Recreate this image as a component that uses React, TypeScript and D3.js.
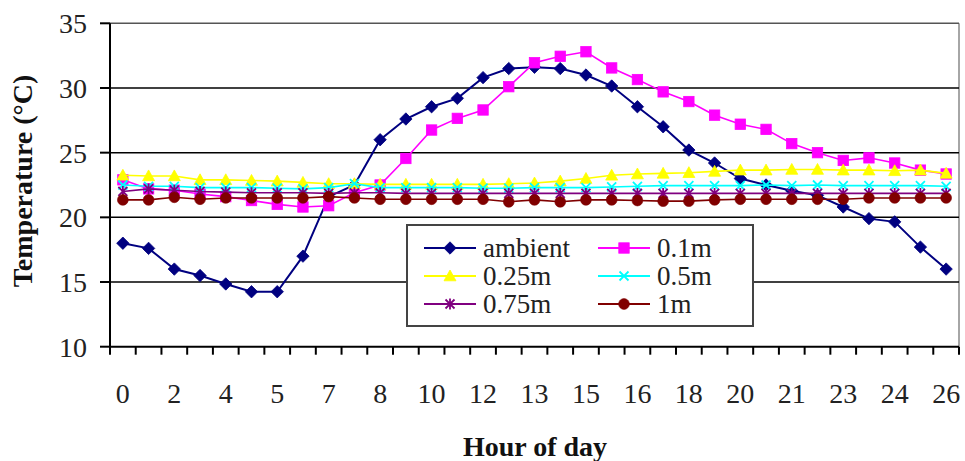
import React from "react";
import * as d3 from "d3";

// Category tick labels (every second category is labelled)
const hourLabels = ["0","","2","","4","","5","","7","","8","","10","","12","","13","","15","","16","","18","","20","","21","","23","","24","","26"];

const ambient = [18.0,17.6,16.0,15.5,14.85,14.25,14.25,17.0,21.6,22.5,26.0,27.6,28.55,29.2,30.8,31.5,31.6,31.5,31.0,30.15,28.55,27.0,25.2,24.2,23.0,22.5,22.05,21.7,20.8,19.9,19.65,17.7,16.0];
const m01 = [22.9,22.2,22.1,21.8,21.6,21.3,21.0,20.8,20.9,21.9,22.5,24.55,26.75,27.65,28.3,30.1,31.95,32.45,32.8,31.55,30.65,29.7,28.95,27.9,27.2,26.8,25.7,25.0,24.4,24.6,24.2,23.65,23.35];
const m025 = [23.25,23.2,23.2,22.9,22.9,22.85,22.8,22.7,22.6,22.6,22.55,22.55,22.55,22.55,22.55,22.6,22.65,22.8,23.0,23.25,23.35,23.4,23.45,23.55,23.65,23.65,23.7,23.7,23.65,23.65,23.6,23.65,23.4];
const m05 = [22.5,22.4,22.4,22.3,22.3,22.3,22.25,22.2,22.3,22.6,22.3,22.3,22.3,22.3,22.25,22.25,22.3,22.3,22.3,22.35,22.4,22.45,22.45,22.45,22.45,22.5,22.45,22.5,22.45,22.45,22.45,22.45,22.4];
const m075 = [22.0,22.2,22.1,22.0,21.95,21.9,21.9,21.9,21.85,21.9,21.9,21.85,21.85,21.85,21.85,21.85,21.85,21.85,21.85,21.85,21.85,21.85,21.85,21.85,21.85,21.85,21.85,21.85,21.85,21.85,21.85,21.85,21.85];
const m1 = [21.35,21.35,21.55,21.4,21.5,21.5,21.5,21.5,21.6,21.5,21.4,21.4,21.4,21.4,21.4,21.2,21.35,21.2,21.35,21.35,21.3,21.25,21.25,21.35,21.4,21.4,21.4,21.4,21.4,21.5,21.5,21.5,21.5];

const yTicks = [10, 15, 20, 25, 30, 35];

const seriesNames = ["ambient", "0.1m", "0.25m", "0.5m", "0.75m", "1m"];
const seriesValues = [ambient, m01, m025, m05, m075, m1];
const seriesColors = ["#000080", "#FF00FF", "#FFFF00", "#00FFFF", "#800080", "#800000"];
const seriesMarkers = ["diamond", "square", "triangle", "x", "asterisk", "circle"];

const W = 965, H = 461;
const L = 110, R = 959, T = 23.3, B = 346.7;

function Marker({ type, x, y, color }: { type: string; x: number; y: number; color: string }) {
  if (type === "diamond") {
    const s = 6.2;
    return <path d={`M${x},${y - s}L${x + s},${y}L${x},${y + s}L${x - s},${y}Z`} fill={color} stroke={color} strokeWidth={0.8} />;
  }
  if (type === "square") {
    const s = 5.2;
    return <rect x={x - s} y={y - s} width={2 * s} height={2 * s} fill={color} stroke={color} strokeWidth={0.8} />;
  }
  if (type === "triangle") {
    const s = 6;
    return <path d={`M${x},${y - s}L${x + s},${y + s * 0.8}L${x - s},${y + s * 0.8}Z`} fill={color} stroke={color} strokeWidth={0.8} />;
  }
  if (type === "x") {
    const s = 4.5;
    return <path d={`M${x - s},${y - s}L${x + s},${y + s}M${x - s},${y + s}L${x + s},${y - s}`} stroke={color} strokeWidth={1.8} fill="none" />;
  }
  if (type === "asterisk") {
    const s = 4.5;
    return <path d={`M${x - s},${y - s}L${x + s},${y + s}M${x - s},${y + s}L${x + s},${y - s}M${x},${y - s - 1}L${x},${y + s + 1}`} stroke={color} strokeWidth={1.8} fill="none" />;
  }
  return <circle cx={x} cy={y} r={5.4} fill={color} stroke={color} strokeWidth={0.6} />;
}

export default function App() {
  const x = d3.scaleBand<number>().domain(hourLabels.map((_, i) => i)).range([L, R]).padding(0);
  const y = d3.scaleLinear().domain([10, 35]).range([B, T]);
  const bw = x.bandwidth();
  const cx = (i: number) => (x(i) as number) + bw / 2;

  const line = (vals: number[]) =>
    d3.line<number>().x((_, i) => cx(i)).y((v) => y(v))(vals) as string;

  const font = "'Liberation Serif', 'Times New Roman', serif";

  const legendRows = [
    [0, 1],
    [2, 3],
    [4, 5],
  ];

  return (
    <svg width={W} height={H} style={{ position: "absolute", left: 0, top: 0, background: "#fff" }} fontFamily={font}>
      <rect x={0} y={0} width={W} height={H} fill="#fff" />
      {/* plot border */}
      <line x1={R} y1={T} x2={R} y2={B} stroke="#888" strokeWidth={1.5} />
      {/* gridlines */}
      {yTicks.filter((t) => t > 10).map((t) => (
        <line key={t} x1={L} x2={R} y1={y(t)} y2={y(t)} stroke={t === 35 ? "#555" : "#000"} strokeWidth={1.5} />
      ))}
      {/* y axis */}
      <line x1={L} x2={L} y1={T} y2={B} stroke="#000" strokeWidth={2} />
      {yTicks.map((t) => (
        <g key={t}>
          <line x1={L - 10} x2={L} y1={y(t)} y2={y(t)} stroke="#000" strokeWidth={2} />
          <text x={87} y={y(t) + 10} textAnchor="end" fontSize={28} fill="#222">{t}</text>
        </g>
      ))}
      {/* x axis */}
      <line x1={L} x2={R} y1={B} y2={B} stroke="#000" strokeWidth={2} />
      {hourLabels.map((_, i) => (
        <line key={"t" + i} x1={x(i) as number} x2={x(i) as number} y1={B} y2={B + 8} stroke="#000" strokeWidth={2} />
      ))}
      <line x1={R} x2={R} y1={B} y2={B + 8} stroke="#000" strokeWidth={2} />
      {hourLabels.map((lab, i) =>
        lab ? (
          <text key={"l" + i} x={cx(i)} y={403} textAnchor="middle" fontSize={28} fill="#222">{lab}</text>
        ) : null
      )}
      {/* axis titles */}
      <text x={535} y={456} textAnchor="middle" fontSize={28} fontWeight="bold" fill="#111">Hour of day</text>
      <text transform={`translate(32,181) rotate(-90)`} textAnchor="middle" fontSize={28} fontWeight="bold" fill="#111">Temperature (°C)</text>

      {/* series */}
      {seriesValues.map((vals, si) => (
        <g key={seriesNames[si]}>
          <path d={line(vals)} fill="none" stroke={seriesColors[si]} strokeWidth={si === 0 ? 2 : 1.6} />
          {vals.map((v, i) => (
            <Marker key={i} type={seriesMarkers[si]} x={cx(i)} y={y(v)} color={seriesColors[si]} />
          ))}
        </g>
      ))}

      {/* legend */}
      <rect x={407} y={225} width={346} height={101} fill="#fff" stroke="#444" strokeWidth={2} />
      {legendRows.map((row, ri) =>
        row.map((si, ci) => {
          const lx = ci === 0 ? 424 : 598;
          const ly = 248 + ri * 28;
          return (
            <g key={si}>
              <line x1={lx} x2={lx + 52} y1={ly} y2={ly} stroke={seriesColors[si]} strokeWidth={1.8} />
              <Marker type={seriesMarkers[si]} x={lx + 26} y={ly} color={seriesColors[si]} />
              <text x={lx + 59} y={ly + 9} fontSize={27} fill="#222">{seriesNames[si]}</text>
            </g>
          );
        })
      )}
    </svg>
  );
}
